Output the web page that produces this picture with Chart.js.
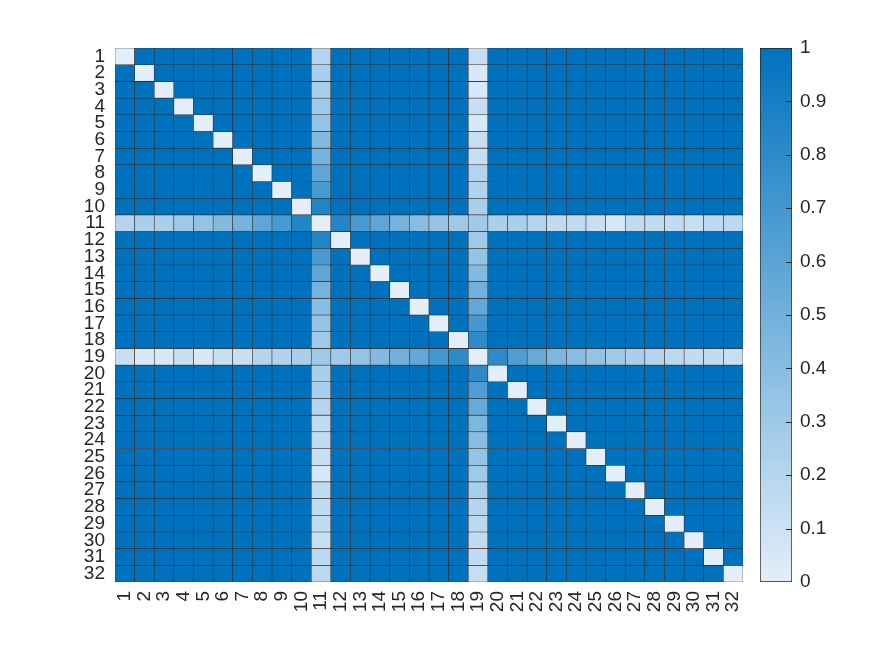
<!DOCTYPE html>
<html>
<head>
<meta charset="utf-8">
<script src="https://cdn.jsdelivr.net/npm/chart.js@4.4.1/dist/chart.umd.min.js"></script>
<style>
  body { margin: 0; background: #fff; }
  #wrap { position: relative; width: 875px; height: 656px; }
  #heat { position: absolute; left: 0; top: 0; }
  #bar { position: absolute; left: 740px; top: 0; }
</style>
</head>
<body>
<div id="wrap">
  <canvas id="heat" width="875" height="656"></canvas>
  <canvas id="bar" width="135" height="656"></canvas>
</div>
<script>
const labels = ['1','2','3','4','5','6','7','8','9','10','11','12','13','14','15','16',
  '17','18','19','20','21','22','23','24','25','26','27','28','29','30','31','32'];

// row / column 11 against every variable
const row11 = [0.20, 0.25, 0.25, 0.30, 0.35, 0.42, 0.48, 0.58, 0.68, 0.85, 0, 0.85,
  0.68, 0.58, 0.48, 0.40, 0.35, 0.30, 0.30, 0.25, 0.25, 0.20, 0.15, 0.15, 0.12, 0.05,
  0.15, 0.15, 0.15, 0.12, 0.17, 0.17];

// row / column 19 against every variable
const row19 = [0.12, 0.05, 0.05, 0.12, 0.05, 0.12, 0.12, 0.20, 0.22, 0.25, 0.30, 0.30,
  0.35, 0.42, 0.50, 0.57, 0.70, 0.80, 0, 0.80, 0.65, 0.55, 0.45, 0.40, 0.35, 0.30,
  0.25, 0.20, 0.18, 0.15, 0.15, 0.12];

const baseValue = 1;
const colorTicks = [0, 0.1, 0.2, 0.3, 0.4, 0.5, 0.6, 0.7, 0.8, 0.9, 1];

const lo = [227, 238, 249];
const hi = [0, 114, 189];
const textColor = '#262626';
const font = { family: "'Liberation Sans', Arial, sans-serif", size: 19 };

function cellValue(r, c) {
  if (r === c) return 0;
  if (r === 11) return row11[c - 1];
  if (c === 11) return row11[r - 1];
  if (r === 19) return row19[c - 1];
  if (c === 19) return row19[r - 1];
  return baseValue;
}

function toColor(v) {
  const m = lo.map((a, i) => Math.round(a + (hi[i] - a) * v));
  return `rgb(${m[0]},${m[1]},${m[2]})`;
}

const datasets = labels.map((_, ri) => {
  const r = ri + 1;
  return {
    label: 'row ' + r,
    data: labels.map(() => [r - 0.5, r + 0.5]),
    backgroundColor: labels.map((_, ci) => toColor(cellValue(r, ci + 1))),
    borderColor: '#2b2b2b',
    borderWidth: 0.6,
    borderSkipped: false,
    barPercentage: 1,
    categoryPercentage: 1,
    grouped: false
  };
});

new Chart(document.getElementById('heat'), {
  type: 'bar',
  data: { labels: labels, datasets: datasets },
  options: {
    responsive: false,
    animation: false,
    events: [],
    layout: { padding: { left: 0, top: 48, right: 132, bottom: 0 } },
    plugins: { legend: { display: false }, tooltip: { enabled: false } },
    scales: {
      x: {
        grid: { display: false, drawTicks: false },
        border: { display: false },
        ticks: { color: textColor, font: font, autoSkip: false, minRotation: 90, maxRotation: 90, padding: 9 },
        afterFit: (s) => { s.height = 74; }
      },
      y: {
        min: 0.5,
        max: 32.5,
        reverse: true,
        grid: { display: false, drawTicks: false },
        border: { display: false },
        afterBuildTicks: (s) => { s.ticks = labels.map((_, i) => ({ value: i + 1 })); },
        ticks: { color: textColor, font: font, autoSkip: false, padding: 10, callback: (v) => labels[v - 1] },
        afterFit: (s) => { s.width = 115; }
      }
    }
  }
});

// short inward tick marks on the right edge of the colour bar
const innerTicks = {
  id: 'innerTicks',
  afterDatasetsDraw(chart) {
    const y = chart.scales.y;
    const right = chart.chartArea.right;
    const c = chart.ctx;
    c.save();
    c.strokeStyle = textColor;
    c.lineWidth = 1;
    y.ticks.forEach((t) => {
      if (t.value === 0 || t.value === 1) return;
      const py = Math.round(y.getPixelForValue(t.value)) + 0.5;
      c.beginPath();
      c.moveTo(right - 6, py);
      c.lineTo(right, py);
      c.stroke();
    });
    c.restore();
  }
};

// colour bar
new Chart(document.getElementById('bar'), {
  type: 'bar',
  data: {
    labels: [''],
    datasets: [{
      data: [[0, 1]],
      backgroundColor: (ctx) => {
        const area = ctx.chart.chartArea;
        if (!area) return toColor(1);
        const g = ctx.chart.ctx.createLinearGradient(0, area.bottom, 0, area.top);
        g.addColorStop(0, toColor(0));
        g.addColorStop(1, toColor(1));
        return g;
      },
      borderColor: textColor,
      borderWidth: 1,
      borderSkipped: false,
      barPercentage: 1,
      categoryPercentage: 1
    }]
  },
  plugins: [innerTicks],
  options: {
    responsive: false,
    animation: false,
    events: [],
    layout: { padding: { left: 20, top: 48, right: 0, bottom: 74 } },
    plugins: { legend: { display: false }, tooltip: { enabled: false } },
    scales: {
      x: { display: false },
      y: {
        position: 'right',
        min: 0,
        max: 1,
        grid: { display: false, drawTicks: false },
        border: { display: false },
        afterBuildTicks: (s) => { s.ticks = colorTicks.map(v => ({ value: v })); },
        ticks: { color: textColor, font: font, padding: 8, callback: (v) => String(v) },
        afterFit: (s) => { s.width = 83; }
      }
    }
  }
});
</script>
</body>
</html>
